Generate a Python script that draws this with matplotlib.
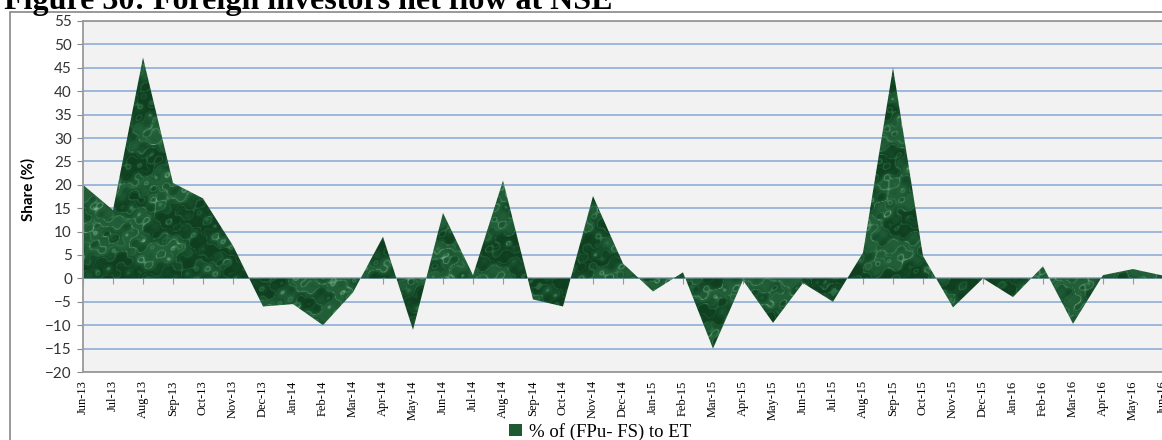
import numpy as np
import matplotlib
matplotlib.use('Agg')
import matplotlib.pyplot as plt
from matplotlib.colors import LinearSegmentedColormap
from matplotlib.patches import Patch, Rectangle

months = ['Jun-13', 'Jul-13', 'Aug-13', 'Sep-13', 'Oct-13', 'Nov-13', 'Dec-13',
          'Jan-14', 'Feb-14', 'Mar-14', 'Apr-14', 'May-14', 'Jun-14', 'Jul-14',
          'Aug-14', 'Sep-14', 'Oct-14', 'Nov-14', 'Dec-14', 'Jan-15', 'Feb-15',
          'Mar-15', 'Apr-15', 'May-15', 'Jun-15', 'Jul-15', 'Aug-15', 'Sep-15',
          'Oct-15', 'Nov-15', 'Dec-15', 'Jan-16', 'Feb-16', 'Mar-16', 'Apr-16',
          'May-16', 'Jun-16']
share = [20, 14.6, 47.2, 20.4, 17.1, 7, -6, -5.5, -10, -3, 8.9, -11, 14, 0.7,
         20.9, -4.5, -6, 17.6, 3.2, -2.8, 1.3, -15, -0.4, -9.5, -1, -5, 5.5, 45,
         4.8, -6.2, 0, -4, 2.6, -9.7, 0.7, 2, 0.6]
yticks = list(range(-20, 60, 5))

serif = 'Liberation Serif'
green = '#1d5a32'

fig = plt.figure(figsize=(11.62, 4.4), dpi=100)
ax = fig.add_axes([83/1162, 1 - 372/440, 1080/1162, 351/440])
ax.set_facecolor('#f2f2f2')

x = np.arange(len(share))
ax.set_xlim(0, len(share) - 1)
ax.set_ylim(-20, 55)

# dark marble texture clipped to the area shape
gx, gy = np.meshgrid(np.linspace(0, 40, 1200), np.linspace(0, 14, 420))
warp = (np.sin(gx * 0.7 + gy * 1.9) + 0.7 * np.sin(gx * 2.3 - gy * 3.1)
        + 0.4 * np.sin(gx * 5.9 + gy * 6.7) + 0.25 * np.sin(gx * 11.3 - gy * 9.9))
base = 0.35 + 0.15 * np.sin(gx * 0.45 - gy * 0.8 + 1.5 * warp)
veins = np.exp(-(np.sin(gx * 1.1 + gy * 2.3 + 2.5 * warp) / 0.18) ** 2)
veins2 = np.exp(-(np.sin(gx * 3.1 - gy * 1.7 + 1.8 * warp) / 0.12) ** 2)
tex = np.clip(base + 0.35 * veins + 0.2 * veins2, 0, 1)
cmap = LinearSegmentedColormap.from_list(
    'marble', ['#072d14', '#0f3f1f', '#1a5430', '#2b6a41', '#4f8c65', '#8cbd9c'])
poly = ax.fill_between(x, share, 0, facecolor='none', edgecolor='none')
im = ax.imshow(tex, extent=(0, len(share) - 1, -20, 55), aspect='auto', cmap=cmap,
               vmin=0, vmax=1, origin='lower', zorder=2, interpolation='bilinear')
im.set_clip_path(poly.get_paths()[0], transform=ax.transData)

ax.set_yticks(yticks)
ax.yaxis.grid(True, color='#95b3d7', lw=1.3)
ax.set_axisbelow(True)
ax.tick_params(axis='y', length=4, color='#888888', labelsize=11, labelcolor='#333333', pad=4)
for lab in ax.get_yticklabels():
    lab.set_family('Lato')

ax.set_xticks(x)
ax.set_xticklabels(months, rotation=90, family=serif, fontsize=9)
ax.tick_params(axis='x', length=0, pad=6)

for s in ['left', 'bottom', 'top']:
    ax.spines[s].set_color('#999999')
    ax.spines[s].set_linewidth(1.3)
ax.spines['right'].set_visible(False)

# category axis with ticks at zero
zero_axis = ax.secondary_xaxis(20 / 75)
zero_axis.set_xticks(x)
zero_axis.tick_params(length=4, color='#999999', labelbottom=False)
zero_axis.spines['bottom'].set_color('#999999')
zero_axis.spines['bottom'].set_linewidth(1.3)

fig.text(28/1162, 1 - 189/440, 'Share (%)', rotation=90, ha='center', va='center',
         fontsize=11, fontweight='bold', family='Lato')

fig.text(4/1162, 1 - 9/440, 'Figure 30: Foreign investors net flow at NSE', fontsize=23,
         fontweight='bold', family=serif, va='baseline', ha='left')

fig.add_artist(Rectangle((10/1162, -0.1), 1.2, 1.1 - 12.5/440, transform=fig.transFigure,
                         fill=False, edgecolor='#888888', lw=1.2))

fig.legend(handles=[Patch(facecolor=green, edgecolor='none', label='% of (FPu- FS) to ET')],
           loc='center', bbox_to_anchor=(600/1162, 1 - 432/440), frameon=False,
           prop={'family': serif, 'size': 13.5}, handlelength=0.7, handleheight=0.6,
           handletextpad=0.4, borderpad=0)

fig.savefig('out.png', dpi=100)
